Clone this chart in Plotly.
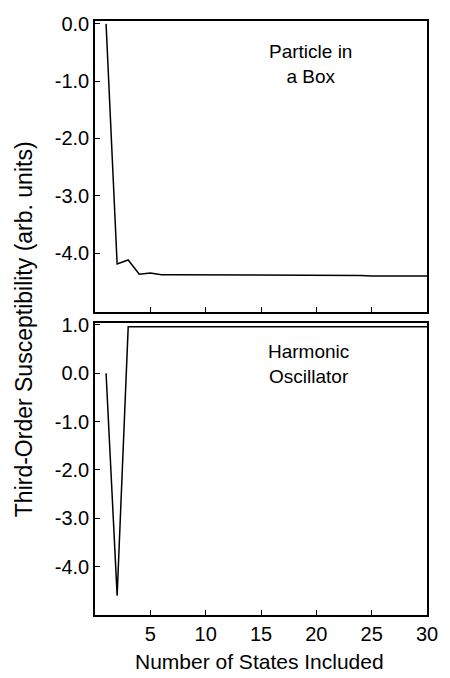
import plotly.graph_objects as go

# Number of states included
states = list(range(1, 31))

# Particle in a box (top panel)
box_values = [0.0, -4.19, -4.12, -4.37, -4.35, -4.38, -4.38, -4.38, -4.38, -4.38,
              -4.38, -4.38, -4.38, -4.38, -4.38, -4.39, -4.39, -4.39, -4.39, -4.39,
              -4.39, -4.39, -4.39, -4.39, -4.40, -4.40, -4.40, -4.40, -4.40, -4.40]

# Harmonic oscillator (bottom panel)
osc_values = [0.0, -4.6, 0.96, 0.96, 0.96, 0.96, 0.96, 0.96, 0.96, 0.96,
              0.96, 0.96, 0.96, 0.96, 0.96, 0.96, 0.96, 0.96, 0.96, 0.96,
              0.96, 0.96, 0.96, 0.96, 0.96, 0.96, 0.96, 0.96, 0.96, 0.96]

x_ticks = [5, 10, 15, 20, 25, 30]
top_yticks = [0, -1, -2, -3, -4]
top_yticklabels = ["0.0", "-1.0", "-2.0", "-3.0", "-4.0"]
bot_yticks = [1, 0, -1, -2, -3, -4]
bot_yticklabels = ["1.0", "0.0", "-1.0", "-2.0", "-3.0", "-4.0"]

FONT = "Liberation Sans, Arial, sans-serif"

fig = go.Figure()
fig.add_trace(go.Scatter(x=states, y=box_values, mode="lines",
                         line=dict(color="black", width=1.5),
                         xaxis="x", yaxis="y", showlegend=False))
fig.add_trace(go.Scatter(x=states, y=osc_values, mode="lines",
                         line=dict(color="black", width=1.5),
                         xaxis="x2", yaxis="y2", showlegend=False))

axis_common = dict(showline=True, linecolor="black", linewidth=1.5, mirror=True,
                   ticks="inside", ticklen=5, tickwidth=1.2, tickcolor="black",
                   showgrid=False, zeroline=False,
                   tickfont=dict(family=FONT, size=20, color="black"))

fig.update_layout(
    width=450, height=678,
    margin=dict(l=95, r=17, t=17, b=63),
    paper_bgcolor="white", plot_bgcolor="white",
    font=dict(family=FONT, color="black"),
    xaxis=dict(domain=[0, 1], range=[0, 30], tickvals=x_ticks, showticklabels=False,
               anchor="y", **axis_common),
    yaxis=dict(domain=[0.510, 1.0], range=[-5.03, 0.05], tickvals=top_yticks,
               ticktext=top_yticklabels, anchor="x", **axis_common),
    xaxis2=dict(domain=[0, 1], range=[0, 30], tickvals=x_ticks, anchor="y2",
                **axis_common),
    yaxis2=dict(domain=[0, 0.4916], range=[-5.0, 1.04], tickvals=bot_yticks,
                ticktext=bot_yticklabels, anchor="x2", **axis_common),
    annotations=[
        dict(text="Particle in<br>a Box", x=19.5, y=-0.70, xref="x", yref="y",
             showarrow=False, font=dict(family=FONT, size=19, color="black"),
             align="center", xanchor="center", yanchor="middle"),
        dict(text="Harmonic<br>Oscillator", x=19.3, y=0.20, xref="x2", yref="y2",
             showarrow=False, font=dict(family=FONT, size=19, color="black"),
             align="center", xanchor="center", yanchor="middle"),
        dict(text="Third-Order Susceptibility (arb. units)", x=-0.213, y=0.4816,
             xref="paper", yref="paper", textangle=-90, showarrow=False,
             xanchor="center", yanchor="middle",
             font=dict(family=FONT, size=23, color="black")),
        dict(text="Number of States Included", x=0.494, y=-0.0786,
             xref="paper", yref="paper", showarrow=False,
             xanchor="center", yanchor="middle",
             font=dict(family=FONT, size=21, color="black")),
    ],
)

fig.write_html("out.html", config={"displayModeBar": False},
               post_script="document.body.style.margin='0px';")
